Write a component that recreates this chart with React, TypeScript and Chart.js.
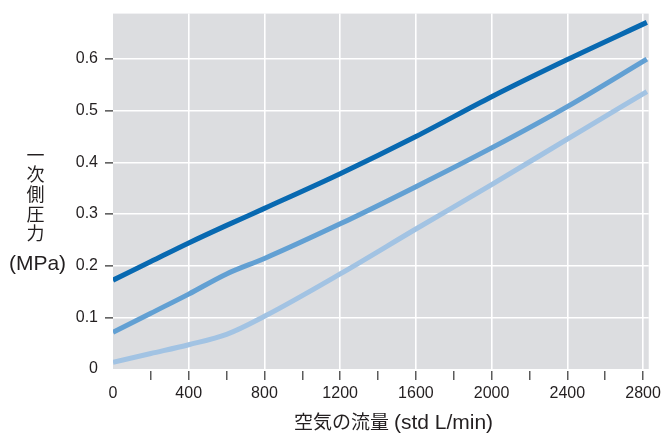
import React, { useEffect, useRef } from "react";
import { Chart, registerables } from "chart.js";

Chart.register(...registerables);

// Air flow rate (std L/min)
const flow = [0, 200, 400, 600, 800, 1200, 1600, 2000, 2400, 2820];
// Primary pressure (MPa) for three curves
const seriesDark = [0.172, 0.208, 0.244, 0.278, 0.311, 0.378, 0.45, 0.527, 0.599, 0.671];
const seriesMid = [0.071, 0.108, 0.145, 0.184, 0.214, 0.281, 0.353, 0.428, 0.508, 0.6];
const seriesLight = [0.013, 0.03, 0.047, 0.067, 0.102, 0.184, 0.271, 0.357, 0.445, 0.537];

// Axis ticks
const xTicks = [0, 200, 400, 600, 800, 1000, 1200, 1400, 1600, 1800, 2000, 2200, 2400, 2600, 2800];
const xLabelStep = 400;
const yTicks = [0, 0.1, 0.2, 0.3, 0.4, 0.5, 0.6];

const xTitleJa = "空気の流量";
const xTitleUnit = "(std L/min)";
const yTitleChars = ["一", "次", "側", "圧", "力"];
const yTitleUnit = "(MPa)";

const BG = "#dcdde0";
const TEXT = "#231f20";
const FONT = '"Liberation Sans", Arial, sans-serif';
const CJK_FONT = '"Noto Sans CJK JP", sans-serif';

const toPts = (ys: number[]) => ys.map((y, i) => ({ x: flow[i], y }));

const decor = {
  id: "decor",
  beforeDraw(chart: any) {
    const { ctx, chartArea } = chart;
    ctx.save();
    ctx.fillStyle = BG;
    ctx.fillRect(chartArea.left, chartArea.top, chartArea.right - chartArea.left, chartArea.bottom - chartArea.top);
    ctx.restore();
  },
  afterDraw(chart: any) {
    const { ctx } = chart;
    ctx.save();
    ctx.fillStyle = TEXT;
    // Y-axis title: stacked CJK characters, then unit
    ctx.textAlign = "center";
    ctx.textBaseline = "middle";
    ctx.font = `18px ${CJK_FONT}`;
    yTitleChars.forEach((c, i) => {
      ctx.fillText(c, 35.5, 155 + i * 19.6);
    });
    ctx.textBaseline = "alphabetic";
    ctx.font = `21px ${FONT}`;
    ctx.fillText(yTitleUnit, 37.5, 270);

    // X-axis title: CJK run + Latin run
    ctx.textAlign = "left";
    ctx.font = `19px ${CJK_FONT}`;
    const w1 = ctx.measureText(xTitleJa).width;
    ctx.font = `21px ${FONT}`;
    const w2 = ctx.measureText(xTitleUnit).width;
    const gap = 5;
    const total = w1 + gap + w2;
    const cx = 393.5;
    const x0 = cx - total / 2;
    ctx.font = `19px ${CJK_FONT}`;
    ctx.fillText(xTitleJa, x0, 428.5);
    ctx.font = `21px ${FONT}`;
    ctx.fillText(xTitleUnit, x0 + w1 + gap, 429);
    ctx.restore();
  },
};

export default function App() {
  const ref = useRef<HTMLCanvasElement>(null);
  useEffect(() => {
    if (!ref.current) return;
    const chart = new Chart(ref.current, {
      type: "line",
      data: {
        datasets: [
          {
            data: toPts(seriesLight),
            borderColor: "#a2c3e3",
            borderWidth: 5,
            pointRadius: 0,
            cubicInterpolationMode: "monotone",
            fill: false,
          },
          {
            data: toPts(seriesMid),
            borderColor: "#62a0d3",
            borderWidth: 5,
            pointRadius: 0,
            cubicInterpolationMode: "monotone",
            fill: false,
          },
          {
            data: toPts(seriesDark),
            borderColor: "#0869b1",
            borderWidth: 5,
            pointRadius: 0,
            cubicInterpolationMode: "monotone",
            fill: false,
          },
        ],
      },
      options: {
        animation: false,
        responsive: false,
        devicePixelRatio: 1,
        layout: { padding: { left: 0, right: 14, top: 9, bottom: 0 } },
        plugins: { legend: { display: false }, tooltip: { enabled: false } },
        scales: {
          x: {
            type: "linear",
            min: 0,
            max: 2830,
            afterFit: (s: any) => {
              s.height = 64;
            },
            afterBuildTicks: (s: any) => {
              s.ticks = xTicks.map((v) => ({ value: v }));
            },
            border: { display: false },
            grid: {
              color: (c: any) =>
                c.tick && c.tick.value % xLabelStep === 0 && c.tick.value !== 0 ? "#ffffff" : "rgba(0,0,0,0)",
              lineWidth: 1.6,
              tickColor: (c: any) => (c.tick && c.tick.value !== 0 ? "#333333" : "rgba(0,0,0,0)"),
              tickWidth: 1.2,
              tickLength: 11,
              tickBorderDash: [0, 2, 9, 100],
            },
            ticks: {
              autoSkip: false,
              maxRotation: 0,
              padding: 4,
              color: TEXT,
              font: { family: FONT, size: 16 },
              callback: (v: any) => (Number(v) % xLabelStep === 0 ? String(v) : ""),
            },
          },
          y: {
            type: "linear",
            min: 0,
            max: 0.688,
            afterFit: (s: any) => {
              s.width = 113;
            },
            afterBuildTicks: (s: any) => {
              s.ticks = yTicks.map((v) => ({ value: v }));
            },
            border: { display: false },
            grid: {
              color: (c: any) => (c.tick && c.tick.value > 0.001 ? "#ffffff" : "rgba(0,0,0,0)"),
              lineWidth: 1.6,
              tickColor: (c: any) => (c.tick && c.tick.value > 0.001 ? "#333333" : "rgba(0,0,0,0)"),
              tickWidth: 1.2,
              tickLength: 11,
              tickBorderDash: [0, 3, 8, 100],
            },
            ticks: {
              padding: 4,
              color: TEXT,
              font: { family: FONT, size: 16 },
              callback: (v: any) => (Math.abs(Number(v)) < 1e-6 ? "0" : Number(v).toFixed(1)),
            },
          },
        },
      },
      plugins: [decor],
    });
    return () => chart.destroy();
  }, []);
  return (
    <div style={{ position: "absolute", left: 0, top: 0, width: 665, height: 433, background: "#ffffff" }}>
      <canvas ref={ref} width={665} height={433} style={{ display: "block" }} />
    </div>
  );
}
